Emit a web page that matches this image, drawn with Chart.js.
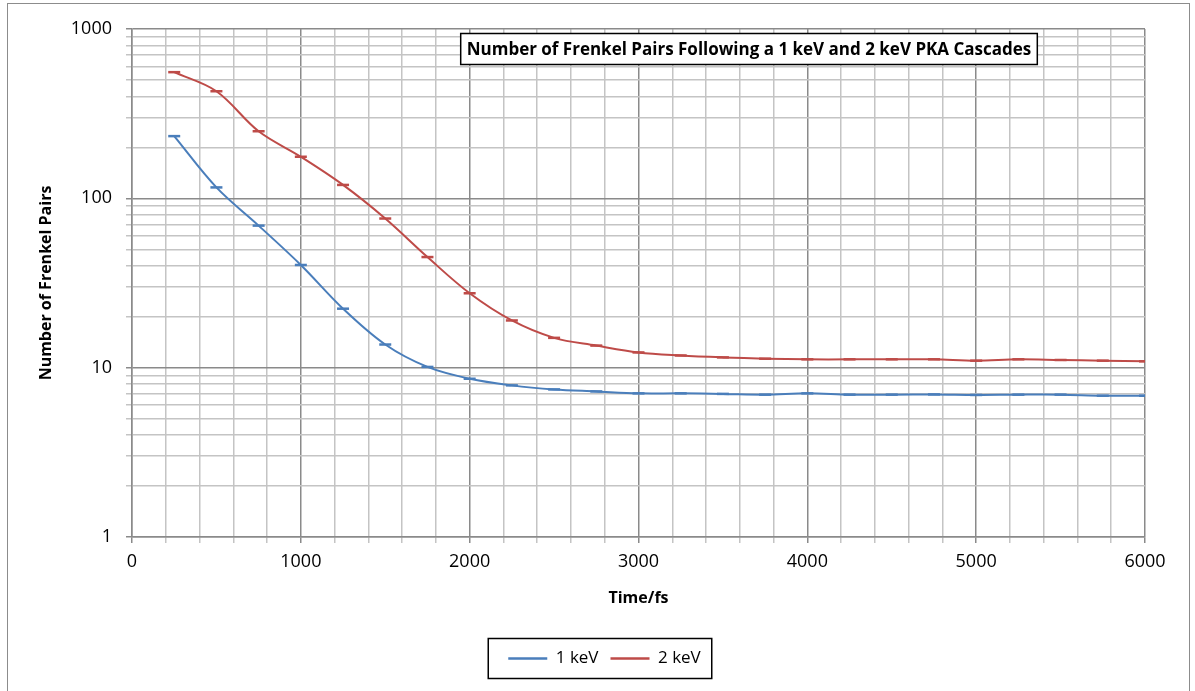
<!DOCTYPE html>
<html lang="en">
<head>
<meta charset="UTF-8">
<title>Frenkel Pairs</title>
<style>
  * { margin: 0; padding: 0; box-sizing: border-box; }
  body { background: #fff; }
  .wrap { position: relative; width: 1195px; height: 691px; }
</style>
</head>
<body>
<div class="wrap"><canvas id="chart" width="1195" height="691"></canvas></div>
<script src="https://cdn.jsdelivr.net/npm/chart.js@4"></script>
<script>
const chartTitle = 'Number of Frenkel Pairs Following a 1 keV and 2 keV PKA Cascades';
const seriesNames = ['1 keV', '2 keV'];
const times = [250, 500, 750, 1000, 1250, 1500, 1750, 2000, 2250, 2500, 2750, 3000,
               3250, 3500, 3750, 4000, 4250, 4500, 4750, 5000, 5250, 5500, 5750, 6000];
const pairs1keV = [233, 116, 69, 40.4, 22.3, 13.7, 10.1, 8.6, 7.86, 7.44, 7.24, 7.05,
                   7.05, 7.0, 6.93, 7.05, 6.93, 6.93, 6.95, 6.9, 6.93, 6.93, 6.83, 6.83];
const pairs2keV = [556, 429, 249, 176, 120, 76, 45, 27.5, 19.0, 15.0, 13.5, 12.3,
                   11.8, 11.5, 11.3, 11.2, 11.2, 11.2, 11.2, 11.0, 11.2, 11.1, 11.0, 10.9];
const yTicks = [1, 2, 3, 4, 5, 6, 7, 8, 9, 10, 20, 30, 40, 50, 60, 70, 80, 90,
                100, 200, 300, 400, 500, 600, 700, 800, 900, 1000];
const yLabels = [1, 10, 100, 1000];
const xMax = 6000, xMinorStep = 200, xMajorStep = 1000;

const BLUE = '#4a7ebb', RED = '#be4b48';
const GRID_MINOR = '#c4c4c4', GRID_MAJOR = '#8a8a8a';
const FONT = '"Open Sans", sans-serif';

const toPts = vals => times.map((t, i) => ({ x: t, y: vals[i] }));

// white background + thin outer frame like the Excel chart area
const framePlugin = {
  id: 'frame',
  beforeDraw(chart) {
    const ctx = chart.ctx;
    ctx.save();
    ctx.fillStyle = '#fff';
    ctx.fillRect(0, 0, chart.width, chart.height);
    ctx.strokeStyle = '#8c8c8c';
    ctx.lineWidth = 1;
    ctx.strokeRect(7.5, 3.5, 1182, 720);
    ctx.restore();
  }
};

// boxed title that sits inside the plot area
const titleBoxPlugin = {
  id: 'titleBox',
  afterDraw(chart) {
    const ctx = chart.ctx;
    ctx.save();
    ctx.font = 'bold 17px ' + FONT;
    const w = ctx.measureText(chartTitle).width;
    const cx = 749, cy = 49;
    const bw = w + 12, bh = 31;
    ctx.fillStyle = '#fff';
    ctx.fillRect(cx - bw / 2, cy - bh / 2, bw, bh);
    ctx.strokeStyle = '#000';
    ctx.lineWidth = 1.5;
    ctx.strokeRect(cx - bw / 2, cy - bh / 2, bw, bh);
    ctx.fillStyle = '#000';
    ctx.textAlign = 'center';
    ctx.textBaseline = 'middle';
    ctx.fillText(chartTitle, cx, cy + 1);
    ctx.restore();
  }
};

// nudge the legend right (it is centred under the plot in the original) and box it
const legendBoxPlugin = {
  id: 'legendBox',
  afterLayout(chart) {
    const lg = chart.legend;
    if (!lg) return;
    lg.left += 32;
    lg.right += 32;
  },
  afterDraw(chart) {
    const hb = chart.legend && chart.legend.legendHitBoxes;
    if (!hb || !hb.length) return;
    const left = Math.min(...hb.map(b => b.left)) - 20;
    const right = Math.max(...hb.map(b => b.left + b.width)) + 11;
    const top = hb[0].top + hb[0].height / 2 - 20;
    const ctx = chart.ctx;
    ctx.save();
    ctx.strokeStyle = '#000';
    ctx.lineWidth = 1.5;
    ctx.strokeRect(left, top, right - left, 40);
    ctx.restore();
  }
};

new Chart(document.getElementById('chart'), {
  type: 'line',
  data: {
    datasets: [
      { label: seriesNames[0], data: toPts(pairs1keV), borderColor: BLUE, backgroundColor: BLUE,
        borderWidth: 2, tension: 0.35, pointStyle: 'line', pointRadius: 6, pointBorderWidth: 2.5,
        pointBorderColor: BLUE },
      { label: seriesNames[1], data: toPts(pairs2keV), borderColor: RED, backgroundColor: RED,
        borderWidth: 2, tension: 0.35, pointStyle: 'line', pointRadius: 6, pointBorderWidth: 2.5,
        pointBorderColor: RED }
    ]
  },
  options: {
    responsive: false,
    animation: false,
    layout: { padding: { left: 0, right: 50, top: 29, bottom: 14 } },
    plugins: {
      title: { display: false },
      tooltip: { enabled: false },
      legend: {
        position: 'bottom',
        labels: {
          usePointStyle: true,
          pointStyleWidth: 39,
          padding: 12,
          color: '#000',
          font: { family: FONT, size: 17 }
        }
      }
    },
    scales: {
      x: {
        type: 'linear',
        min: 0,
        max: xMax,
        afterFit: s => { s.height = 101; },
        ticks: {
          stepSize: xMinorStep,
          autoSkip: false,
          maxRotation: 0,
          padding: 8,
          color: '#000',
          font: { family: FONT, size: 18 },
          callback: v => (v % xMajorStep === 0 ? String(v) : '')
        },
        grid: {
          color: c => (c.tick && c.tick.value % xMajorStep === 0 ? GRID_MAJOR : GRID_MINOR),
          lineWidth: 1.5,
          tickLength: 6
        },
        border: { color: GRID_MAJOR, width: 1.5 },
        title: {
          display: true,
          text: 'Time/fs',
          color: '#000',
          font: { family: FONT, size: 16, weight: 'bold' },
          padding: { top: 0, bottom: 30 }
        }
      },
      y: {
        type: 'logarithmic',
        min: 1,
        max: 1000,
        afterFit: s => { s.width = 132; },
        afterBuildTicks: s => { s.ticks = yTicks.map(v => ({ value: v })); },
        ticks: {
          autoSkip: false,
          padding: 14,
          color: '#000',
          font: { family: FONT, size: 18 },
          callback: v => (yLabels.includes(v) ? String(v) : '')
        },
        grid: {
          color: c => (c.tick && yLabels.includes(c.tick.value) ? GRID_MAJOR : GRID_MINOR),
          lineWidth: 1.5,
          tickLength: 6
        },
        border: { color: GRID_MAJOR, width: 1.5 },
        title: {
          display: true,
          text: 'Number of Frenkel Pairs',
          color: '#000',
          font: { family: FONT, size: 16, weight: 'bold' },
          padding: { top: 37, bottom: 0 }
        }
      }
    }
  },
  plugins: [framePlugin, titleBoxPlugin, legendBoxPlugin]
});
</script>
</body>
</html>
